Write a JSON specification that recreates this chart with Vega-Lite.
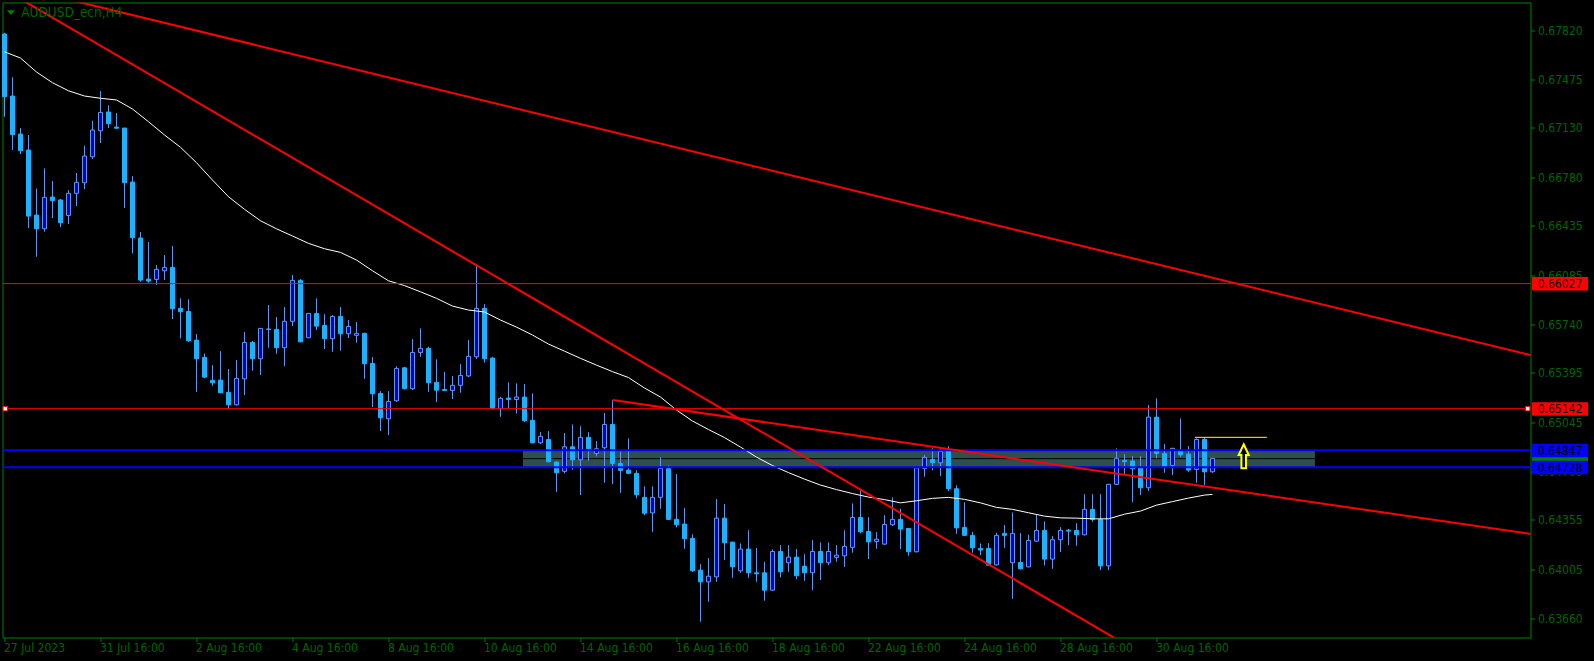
{
"$schema": "https://vega.github.io/schema/vega-lite/v6.json",
"width": 1528, "height": 635,
"autosize": {"type": "none"},
"padding": {"left": 2.5, "top": 2.5, "right": 63.5, "bottom": 23.5},
"background": "#000000",
"config": {
 "view": {"stroke": "#008000", "strokeWidth": 1},
 "font": "DejaVu Sans Condensed, Liberation Sans Narrow, DejaVu Sans",
 "scale": {"continuousPadding": 0},
 "axis": {"domain": false, "grid": false, "ticks": true, "tickColor": "#008000", "tickSize": 4, "labelColor": "#006400", "labelFont": "DejaVu Sans Condensed, Liberation Sans Narrow, DejaVu Sans", "labelFontSize": 12, "labelOverlap": false, "labelBound": false, "labelFlush": false},
 "axisX": {"labelAlign": "left", "labelBaseline": "top", "labelPadding": 1, "labelOffset": -1},
 "axisY": {"labelAlign": "left", "labelBaseline": "middle", "labelPadding": 3}
},
"datasets": {
"candles": [
{"i":0,"o":0.67794,"h":0.67803,"l":0.67208,"c":0.67350},
{"i":1,"o":0.67355,"h":0.67487,"l":0.66973,"c":0.67081},
{"i":2,"o":0.67086,"h":0.67128,"l":0.66944,"c":0.66968},
{"i":3,"o":0.66973,"h":0.67079,"l":0.66420,"c":0.66505},
{"i":4,"o":0.66512,"h":0.66701,"l":0.66217,"c":0.66415},
{"i":5,"o":0.66415,"h":0.66843,"l":0.66394,"c":0.66638},
{"i":6,"o":0.66640,"h":0.66753,"l":0.66491,"c":0.66614},
{"i":7,"o":0.66619,"h":0.66626,"l":0.66427,"c":0.66458},
{"i":8,"o":0.66510,"h":0.66689,"l":0.66449,"c":0.66666},
{"i":9,"o":0.66666,"h":0.66810,"l":0.66576,"c":0.66744},
{"i":10,"o":0.66741,"h":0.67003,"l":0.66696,"c":0.66930},
{"i":11,"o":0.66925,"h":0.67180,"l":0.66909,"c":0.67114},
{"i":12,"o":0.67109,"h":0.67390,"l":0.67022,"c":0.67239},
{"i":13,"o":0.67242,"h":0.67289,"l":0.67128,"c":0.67159},
{"i":14,"o":0.67135,"h":0.67234,"l":0.67125,"c":0.67127},
{"i":15,"o":0.67128,"h":0.67131,"l":0.66562,"c":0.66741},
{"i":16,"o":0.66746,"h":0.66788,"l":0.66241,"c":0.66352},
{"i":17,"o":0.66350,"h":0.66392,"l":0.66040,"c":0.66052},
{"i":18,"o":0.66059,"h":0.66321,"l":0.66033,"c":0.66045},
{"i":19,"o":0.66057,"h":0.66158,"l":0.66017,"c":0.66128},
{"i":20,"o":0.66118,"h":0.66229,"l":0.66052,"c":0.66142},
{"i":21,"o":0.66142,"h":0.66293,"l":0.65776,"c":0.65849},
{"i":22,"o":0.65852,"h":0.65923,"l":0.65639,"c":0.65828},
{"i":23,"o":0.65830,"h":0.65916,"l":0.65615,"c":0.65622},
{"i":24,"o":0.65627,"h":0.65670,"l":0.65261,"c":0.65495},
{"i":25,"o":0.65505,"h":0.65533,"l":0.65358,"c":0.65365},
{"i":26,"o":0.65342,"h":0.65450,"l":0.65304,"c":0.65325},
{"i":27,"o":0.65344,"h":0.65549,"l":0.65252,"c":0.65254},
{"i":28,"o":0.65257,"h":0.65422,"l":0.65139,"c":0.65169},
{"i":29,"o":0.65169,"h":0.65486,"l":0.65165,"c":0.65356},
{"i":30,"o":0.65353,"h":0.65684,"l":0.65238,"c":0.65611},
{"i":31,"o":0.65611,"h":0.65622,"l":0.65410,"c":0.65495},
{"i":32,"o":0.65495,"h":0.65712,"l":0.65380,"c":0.65710},
{"i":33,"o":0.65706,"h":0.65875,"l":0.65573,"c":0.65702},
{"i":34,"o":0.65703,"h":0.65790,"l":0.65530,"c":0.65573},
{"i":35,"o":0.65573,"h":0.65861,"l":0.65443,"c":0.65760},
{"i":36,"o":0.65760,"h":0.66088,"l":0.65726,"c":0.66050},
{"i":37,"o":0.66050,"h":0.66059,"l":0.65612,"c":0.65615},
{"i":38,"o":0.65644,"h":0.65819,"l":0.65641,"c":0.65816},
{"i":39,"o":0.65816,"h":0.65923,"l":0.65698,"c":0.65726},
{"i":40,"o":0.65731,"h":0.65811,"l":0.65564,"c":0.65637},
{"i":41,"o":0.65637,"h":0.65804,"l":0.65545,"c":0.65795},
{"i":42,"o":0.65795,"h":0.65861,"l":0.65552,"c":0.65672},
{"i":43,"o":0.65672,"h":0.65769,"l":0.65642,"c":0.65724},
{"i":44,"o":0.65661,"h":0.65755,"l":0.65608,"c":0.65675},
{"i":45,"o":0.65675,"h":0.65680,"l":0.65353,"c":0.65460},
{"i":46,"o":0.65462,"h":0.65507,"l":0.65153,"c":0.65247},
{"i":47,"o":0.65250,"h":0.65266,"l":0.64983,"c":0.65077},
{"i":48,"o":0.65070,"h":0.65266,"l":0.64955,"c":0.65193},
{"i":49,"o":0.65198,"h":0.65443,"l":0.65190,"c":0.65427},
{"i":50,"o":0.65431,"h":0.65438,"l":0.65278,"c":0.65283},
{"i":51,"o":0.65283,"h":0.65634,"l":0.65273,"c":0.65540},
{"i":52,"o":0.65540,"h":0.65710,"l":0.65509,"c":0.65569},
{"i":53,"o":0.65569,"h":0.65580,"l":0.65261,"c":0.65325},
{"i":54,"o":0.65328,"h":0.65491,"l":0.65188,"c":0.65273},
{"i":55,"o":0.65278,"h":0.65403,"l":0.65266,"c":0.65271},
{"i":56,"o":0.65271,"h":0.65372,"l":0.65210,"c":0.65307},
{"i":57,"o":0.65307,"h":0.65457,"l":0.65254,"c":0.65377},
{"i":58,"o":0.65373,"h":0.65629,"l":0.65365,"c":0.65512},
{"i":59,"o":0.65509,"h":0.66158,"l":0.65493,"c":0.65852},
{"i":60,"o":0.65852,"h":0.65882,"l":0.65467,"c":0.65495},
{"i":61,"o":0.65500,"h":0.65509,"l":0.65137,"c":0.65141},
{"i":62,"o":0.65141,"h":0.65226,"l":0.65084,"c":0.65215},
{"i":63,"o":0.65217,"h":0.65328,"l":0.65144,"c":0.65207},
{"i":64,"o":0.65207,"h":0.65321,"l":0.65108,"c":0.65224},
{"i":65,"o":0.65224,"h":0.65316,"l":0.65049,"c":0.65056},
{"i":66,"o":0.65059,"h":0.65250,"l":0.64896,"c":0.64900},
{"i":67,"o":0.64900,"h":0.64976,"l":0.64891,"c":0.64946},
{"i":68,"o":0.64924,"h":0.64983,"l":0.64761,"c":0.64766},
{"i":69,"o":0.64764,"h":0.64766,"l":0.64553,"c":0.64688},
{"i":70,"o":0.64698,"h":0.64969,"l":0.64684,"c":0.64872},
{"i":71,"o":0.64872,"h":0.65030,"l":0.64709,"c":0.64780},
{"i":72,"o":0.64780,"h":0.65018,"l":0.64530,"c":0.64939},
{"i":73,"o":0.64939,"h":0.64976,"l":0.64773,"c":0.64858},
{"i":74,"o":0.64825,"h":0.64912,"l":0.64804,"c":0.64858},
{"i":75,"o":0.64865,"h":0.65111,"l":0.64617,"c":0.65030},
{"i":76,"o":0.65030,"h":0.65203,"l":0.64608,"c":0.64754},
{"i":77,"o":0.64754,"h":0.64839,"l":0.64546,"c":0.64705},
{"i":78,"o":0.64707,"h":0.64931,"l":0.64679,"c":0.64684},
{"i":79,"o":0.64684,"h":0.64707,"l":0.64507,"c":0.64532},
{"i":80,"o":0.64514,"h":0.64592,"l":0.64388,"c":0.64402},
{"i":81,"o":0.64404,"h":0.64592,"l":0.64270,"c":0.64514},
{"i":82,"o":0.64514,"h":0.64797,"l":0.64433,"c":0.64719},
{"i":83,"o":0.64719,"h":0.64740,"l":0.64355,"c":0.64358},
{"i":84,"o":0.64358,"h":0.64679,"l":0.64301,"c":0.64320},
{"i":85,"o":0.64325,"h":0.64440,"l":0.64150,"c":0.64221},
{"i":86,"o":0.64224,"h":0.64252,"l":0.63987,"c":0.63994},
{"i":87,"o":0.63999,"h":0.64041,"l":0.63633,"c":0.63916},
{"i":88,"o":0.63916,"h":0.64084,"l":0.63775,"c":0.63956},
{"i":89,"o":0.63951,"h":0.64502,"l":0.63916,"c":0.64367},
{"i":90,"o":0.64367,"h":0.64466,"l":0.64070,"c":0.64192},
{"i":91,"o":0.64197,"h":0.64200,"l":0.63944,"c":0.64022},
{"i":92,"o":0.63994,"h":0.64188,"l":0.63980,"c":0.64148},
{"i":93,"o":0.64148,"h":0.64282,"l":0.63944,"c":0.63980},
{"i":94,"o":0.63980,"h":0.64155,"l":0.63916,"c":0.63973},
{"i":95,"o":0.63980,"h":0.64058,"l":0.63782,"c":0.63857},
{"i":96,"o":0.63857,"h":0.64145,"l":0.63852,"c":0.64131},
{"i":97,"o":0.64131,"h":0.64176,"l":0.63947,"c":0.63987},
{"i":98,"o":0.64051,"h":0.64176,"l":0.63987,"c":0.64091},
{"i":99,"o":0.64091,"h":0.64148,"l":0.63935,"c":0.63959},
{"i":100,"o":0.64027,"h":0.64112,"l":0.63923,"c":0.63980},
{"i":101,"o":0.63980,"h":0.64211,"l":0.63857,"c":0.64131},
{"i":102,"o":0.64131,"h":0.64195,"l":0.63929,"c":0.64051},
{"i":103,"o":0.64051,"h":0.64195,"l":0.64034,"c":0.64131},
{"i":104,"o":0.64089,"h":0.64176,"l":0.64058,"c":0.64105},
{"i":105,"o":0.64100,"h":0.64282,"l":0.64022,"c":0.64167},
{"i":106,"o":0.64160,"h":0.64471,"l":0.64122,"c":0.64372},
{"i":107,"o":0.64372,"h":0.64565,"l":0.64259,"c":0.64270},
{"i":108,"o":0.64273,"h":0.64374,"l":0.64077,"c":0.64199},
{"i":109,"o":0.64202,"h":0.64268,"l":0.64150,"c":0.64218},
{"i":110,"o":0.64183,"h":0.64388,"l":0.64176,"c":0.64322},
{"i":111,"o":0.64320,"h":0.64514,"l":0.64311,"c":0.64358},
{"i":112,"o":0.64358,"h":0.64433,"l":0.64148,"c":0.64289},
{"i":113,"o":0.64294,"h":0.64296,"l":0.64100,"c":0.64129},
{"i":114,"o":0.64129,"h":0.64726,"l":0.64124,"c":0.64723},
{"i":115,"o":0.64719,"h":0.64813,"l":0.64660,"c":0.64797},
{"i":116,"o":0.64783,"h":0.64861,"l":0.64705,"c":0.64759},
{"i":117,"o":0.64759,"h":0.64861,"l":0.64664,"c":0.64839},
{"i":118,"o":0.64844,"h":0.64877,"l":0.64558,"c":0.64575},
{"i":119,"o":0.64575,"h":0.64599,"l":0.64256,"c":0.64298},
{"i":120,"o":0.64301,"h":0.64480,"l":0.64240,"c":0.64245},
{"i":121,"o":0.64245,"h":0.64270,"l":0.64122,"c":0.64157},
{"i":122,"o":0.64153,"h":0.64188,"l":0.64105,"c":0.64141},
{"i":123,"o":0.64153,"h":0.64190,"l":0.64029,"c":0.64034},
{"i":124,"o":0.64036,"h":0.64263,"l":0.64032,"c":0.64245},
{"i":125,"o":0.64259,"h":0.64318,"l":0.64157,"c":0.64245},
{"i":126,"o":0.64051,"h":0.64407,"l":0.63796,"c":0.64259},
{"i":127,"o":0.64053,"h":0.64261,"l":0.64004,"c":0.64008},
{"i":128,"o":0.64022,"h":0.64249,"l":0.64020,"c":0.64209},
{"i":129,"o":0.64204,"h":0.64390,"l":0.64199,"c":0.64280},
{"i":130,"o":0.64280,"h":0.64344,"l":0.64032,"c":0.64077},
{"i":131,"o":0.64077,"h":0.64240,"l":0.64008,"c":0.64214},
{"i":132,"o":0.64214,"h":0.64303,"l":0.64127,"c":0.64280},
{"i":133,"o":0.64282,"h":0.64291,"l":0.64176,"c":0.64275},
{"i":134,"o":0.64280,"h":0.64331,"l":0.64171,"c":0.64249},
{"i":135,"o":0.64249,"h":0.64537,"l":0.64245,"c":0.64429},
{"i":136,"o":0.64429,"h":0.64537,"l":0.64341,"c":0.64358},
{"i":137,"o":0.64358,"h":0.64537,"l":0.63999,"c":0.64029},
{"i":138,"o":0.64029,"h":0.64610,"l":0.63999,"c":0.64606},
{"i":139,"o":0.64606,"h":0.64861,"l":0.64601,"c":0.64790},
{"i":140,"o":0.64776,"h":0.64820,"l":0.64679,"c":0.64766},
{"i":141,"o":0.64771,"h":0.64806,"l":0.64480,"c":0.64716},
{"i":142,"o":0.64723,"h":0.64806,"l":0.64530,"c":0.64582},
{"i":143,"o":0.64582,"h":0.65167,"l":0.64560,"c":0.65082},
{"i":144,"o":0.65082,"h":0.65215,"l":0.64790,"c":0.64825},
{"i":145,"o":0.64825,"h":0.64891,"l":0.64688,"c":0.64735},
{"i":146,"o":0.64740,"h":0.64865,"l":0.64672,"c":0.64861},
{"i":147,"o":0.64844,"h":0.65073,"l":0.64801,"c":0.64815},
{"i":148,"o":0.64820,"h":0.64877,"l":0.64695,"c":0.64707},
{"i":149,"o":0.64712,"h":0.64931,"l":0.64617,"c":0.64924},
{"i":150,"o":0.64924,"h":0.64938,"l":0.64601,"c":0.64695},
{"i":151,"o":0.64695,"h":0.64792,"l":0.64688,"c":0.64790}
],
"ma": [
{"i":0,"p":0.67668},{"i":2,"p":0.67624},{"i":4,"p":0.67525},{"i":6,"p":0.67449},{"i":8,"p":0.67392},{"i":10,"p":0.67355},{"i":12,"p":0.67339},{"i":14,"p":0.67327},{"i":16,"p":0.67263},{"i":18,"p":0.67173},{"i":20,"p":0.67079},{"i":22,"p":0.66992},{"i":24,"p":0.66883},{"i":26,"p":0.66760},{"i":28,"p":0.66642},{"i":30,"p":0.66553},{"i":32,"p":0.66472},{"i":34,"p":0.66415},{"i":36,"p":0.66364},{"i":38,"p":0.66312},{"i":40,"p":0.66274},{"i":42,"p":0.66248},{"i":44,"p":0.66194},{"i":46,"p":0.66118},{"i":48,"p":0.66047},{"i":50,"p":0.66013},{"i":52,"p":0.65969},{"i":54,"p":0.65923},{"i":56,"p":0.65868},{"i":58,"p":0.65840},{"i":60,"p":0.65826},{"i":62,"p":0.65769},{"i":64,"p":0.65719},{"i":66,"p":0.65663},{"i":68,"p":0.65599},{"i":70,"p":0.65549},{"i":72,"p":0.65498},{"i":74,"p":0.65450},{"i":76,"p":0.65404},{"i":78,"p":0.65362},{"i":80,"p":0.65288},{"i":82,"p":0.65224},{"i":84,"p":0.65132},{"i":86,"p":0.65054},{"i":88,"p":0.64994},{"i":90,"p":0.64937},{"i":92,"p":0.64870},{"i":94,"p":0.64799},{"i":96,"p":0.64739},{"i":98,"p":0.64689},{"i":100,"p":0.64643},{"i":102,"p":0.64601},{"i":104,"p":0.64569},{"i":106,"p":0.64541},{"i":108,"p":0.64516},{"i":110,"p":0.64498},{"i":112,"p":0.64475},{"i":114,"p":0.64490},{"i":116,"p":0.64507},{"i":118,"p":0.64514},{"i":120,"p":0.64500},{"i":122,"p":0.64475},{"i":124,"p":0.64443},{"i":126,"p":0.64429},{"i":128,"p":0.64405},{"i":130,"p":0.64381},{"i":132,"p":0.64369},{"i":134,"p":0.64367},{"i":136,"p":0.64362},{"i":138,"p":0.64362},{"i":140,"p":0.64395},{"i":142,"p":0.64417},{"i":144,"p":0.64459},{"i":146,"p":0.64484},{"i":148,"p":0.64509},{"i":150,"p":0.64530},{"i":151,"p":0.64535}
],
"trend": [
{"id":"t1","i":0,"p":0.68148},{"id":"t1","i":191,"p":0.65518},
{"id":"t2","i":0,"p":0.68108},{"id":"t2","i":150,"p":0.63146},
{"id":"t3","i":76,"p":0.65203},{"id":"t3","i":191,"p":0.64253}
],
"levels": [
{"p":0.66027,"kind":"res"},
{"p":0.65142,"kind":"res"},
{"p":0.64847,"kind":"zone"},
{"p":0.64728,"kind":"zone"}
],
"boxes": [
{"p":0.64790,"kind":"bid","label":""},
{"p":0.66027,"kind":"res","label":"0.66027"},
{"p":0.65142,"kind":"res","label":"0.65142"},
{"p":0.64847,"kind":"zone","label":"0.64847"},
{"p":0.64728,"kind":"zone","label":"0.64728"}
],
"zone": [{"i0":64.8,"i1":163.8,"lo":0.64728,"hi":0.64847,"mid":0.64788}],
"signal": [{"i0":148.8,"i1":157.8,"p":0.64939,"ia":154.9,"pa":0.64805}],
"handles": [{"i":0.1,"p":0.65142},{"i":190.4,"p":0.65142}],
"caption": [{"i":2.1,"it":0.8,"p":0.67946,"label":"AUDUSD_ecn,H4"}]
},
"layer": [
{"data":{"name":"zone"},"mark":{"type":"rect","fill":"#2f4f4f"},
 "encoding":{
 "x":{"field":"i0","type":"quantitative","scale":{"domain":[-0.25,190.75],"nice":false,"zero":false,"padding":0},"axis":{"title":null,"values":[0,12,24,36,48,60,72,84,96,108,120,132,144],"labelExpr":"['27 Jul 2023','31 Jul 16:00','2 Aug 16:00','4 Aug 16:00','8 Aug 16:00','10 Aug 16:00','14 Aug 16:00','16 Aug 16:00','18 Aug 16:00','22 Aug 16:00','24 Aug 16:00','28 Aug 16:00','30 Aug 16:00'][round(datum.value/12)]"}},
 "x2":{"field":"i1"},
 "y":{"field":"lo","type":"quantitative","scale":{"domain":[0.63522,0.68017],"nice":false,"zero":false},"axis":{"title":null,"orient":"right","values":[0.6366,0.64005,0.64355,0.647,0.65045,0.65395,0.6574,0.66085,0.66435,0.6678,0.6713,0.67475,0.6782],"format":".5f"}},
 "y2":{"field":"hi"}}},
{"data":{"name":"zone"},"mark":{"type":"rule","color":"#000000","strokeWidth":1},
 "encoding":{
 "x":{"field":"i0","type":"quantitative","scale":{"domain":[-0.25,190.75],"nice":false,"zero":false,"padding":0},"axis":{"title":null,"values":[0,12,24,36,48,60,72,84,96,108,120,132,144],"labelExpr":"['27 Jul 2023','31 Jul 16:00','2 Aug 16:00','4 Aug 16:00','8 Aug 16:00','10 Aug 16:00','14 Aug 16:00','16 Aug 16:00','18 Aug 16:00','22 Aug 16:00','24 Aug 16:00','28 Aug 16:00','30 Aug 16:00'][round(datum.value/12)]"}},
 "x2":{"field":"i1"},
 "y":{"field":"mid","type":"quantitative","scale":{"domain":[0.63522,0.68017],"nice":false,"zero":false},"axis":{"title":null,"orient":"right","values":[0.6366,0.64005,0.64355,0.647,0.65045,0.65395,0.6574,0.66085,0.66435,0.6678,0.6713,0.67475,0.6782],"format":".5f"}}}},
{"data":{"name":"candles"},"mark":{"type":"rule","color":"#6495ed","strokeWidth":1},
 "encoding":{
 "x":{"field":"i","type":"quantitative","scale":{"domain":[-0.25,190.75],"nice":false,"zero":false,"padding":0},"axis":{"title":null,"values":[0,12,24,36,48,60,72,84,96,108,120,132,144],"labelExpr":"['27 Jul 2023','31 Jul 16:00','2 Aug 16:00','4 Aug 16:00','8 Aug 16:00','10 Aug 16:00','14 Aug 16:00','16 Aug 16:00','18 Aug 16:00','22 Aug 16:00','24 Aug 16:00','28 Aug 16:00','30 Aug 16:00'][round(datum.value/12)]"}},
 "y":{"field":"l","type":"quantitative","scale":{"domain":[0.63522,0.68017],"nice":false,"zero":false},"axis":{"title":null,"orient":"right","values":[0.6366,0.64005,0.64355,0.647,0.65045,0.65395,0.6574,0.66085,0.66435,0.6678,0.6713,0.67475,0.6782],"format":".5f"}},
 "y2":{"field":"h"}}},
{"data":{"name":"candles"},"mark":{"type":"bar","width":4,"strokeWidth":1},
 "encoding":{
 "x":{"field":"i","type":"quantitative","scale":{"domain":[-0.25,190.75],"nice":false,"zero":false,"padding":0},"axis":{"title":null,"values":[0,12,24,36,48,60,72,84,96,108,120,132,144],"labelExpr":"['27 Jul 2023','31 Jul 16:00','2 Aug 16:00','4 Aug 16:00','8 Aug 16:00','10 Aug 16:00','14 Aug 16:00','16 Aug 16:00','18 Aug 16:00','22 Aug 16:00','24 Aug 16:00','28 Aug 16:00','30 Aug 16:00'][round(datum.value/12)]"}},
 "y":{"field":"o","type":"quantitative","scale":{"domain":[0.63522,0.68017],"nice":false,"zero":false},"axis":{"title":null,"orient":"right","values":[0.6366,0.64005,0.64355,0.647,0.65045,0.65395,0.6574,0.66085,0.66435,0.6678,0.6713,0.67475,0.6782],"format":".5f"}},
 "y2":{"field":"c"},
 "fill":{"condition":{"test":"datum.c > datum.o","value":"#0000cd"},"value":"#1fb1ff"},
 "stroke":{"condition":{"test":"datum.c > datum.o","value":"#6495ed"},"value":"#1fb1ff"}}},
{"data":{"name":"ma"},"mark":{"type":"line","color":"#ffffff","strokeWidth":1},
 "encoding":{
 "x":{"field":"i","type":"quantitative","scale":{"domain":[-0.25,190.75],"nice":false,"zero":false,"padding":0},"axis":{"title":null,"values":[0,12,24,36,48,60,72,84,96,108,120,132,144],"labelExpr":"['27 Jul 2023','31 Jul 16:00','2 Aug 16:00','4 Aug 16:00','8 Aug 16:00','10 Aug 16:00','14 Aug 16:00','16 Aug 16:00','18 Aug 16:00','22 Aug 16:00','24 Aug 16:00','28 Aug 16:00','30 Aug 16:00'][round(datum.value/12)]"}},
 "y":{"field":"p","type":"quantitative","scale":{"domain":[0.63522,0.68017],"nice":false,"zero":false},"axis":{"title":null,"orient":"right","values":[0.6366,0.64005,0.64355,0.647,0.65045,0.65395,0.6574,0.66085,0.66435,0.6678,0.6713,0.67475,0.6782],"format":".5f"}}}},
{"data":{"name":"levels"},"mark":{"type":"rule"},
 "encoding":{
 "y":{"field":"p","type":"quantitative","scale":{"domain":[0.63522,0.68017],"nice":false,"zero":false},"axis":{"title":null,"orient":"right","values":[0.6366,0.64005,0.64355,0.647,0.65045,0.65395,0.6574,0.66085,0.66435,0.6678,0.6713,0.67475,0.6782],"format":".5f"}},
 "color":{"field":"kind","type":"nominal","scale":{"domain":["res","zone","bid"],"range":["#ff0000","#0000ff","#008000"]},"legend":null},
 "strokeWidth":{"condition":{"test":"datum.kind == 'zone'","value":2},"value":1}}},
{"data":{"name":"trend"},"mark":{"type":"line","clip":true,"color":"#ff0000","strokeWidth":2},
 "encoding":{
 "x":{"field":"i","type":"quantitative","scale":{"domain":[-0.25,190.75],"nice":false,"zero":false,"padding":0},"axis":{"title":null,"values":[0,12,24,36,48,60,72,84,96,108,120,132,144],"labelExpr":"['27 Jul 2023','31 Jul 16:00','2 Aug 16:00','4 Aug 16:00','8 Aug 16:00','10 Aug 16:00','14 Aug 16:00','16 Aug 16:00','18 Aug 16:00','22 Aug 16:00','24 Aug 16:00','28 Aug 16:00','30 Aug 16:00'][round(datum.value/12)]"}},
 "y":{"field":"p","type":"quantitative","scale":{"domain":[0.63522,0.68017],"nice":false,"zero":false},"axis":{"title":null,"orient":"right","values":[0.6366,0.64005,0.64355,0.647,0.65045,0.65395,0.6574,0.66085,0.66435,0.6678,0.6713,0.67475,0.6782],"format":".5f"}},
 "detail":{"field":"id"}}},
{"data":{"name":"signal"},"mark":{"type":"rule","color":"#ffff00","strokeWidth":1},
 "encoding":{
 "x":{"field":"i0","type":"quantitative","scale":{"domain":[-0.25,190.75],"nice":false,"zero":false,"padding":0},"axis":{"title":null,"values":[0,12,24,36,48,60,72,84,96,108,120,132,144],"labelExpr":"['27 Jul 2023','31 Jul 16:00','2 Aug 16:00','4 Aug 16:00','8 Aug 16:00','10 Aug 16:00','14 Aug 16:00','16 Aug 16:00','18 Aug 16:00','22 Aug 16:00','24 Aug 16:00','28 Aug 16:00','30 Aug 16:00'][round(datum.value/12)]"}},
 "x2":{"field":"i1"},
 "y":{"field":"p","type":"quantitative","scale":{"domain":[0.63522,0.68017],"nice":false,"zero":false},"axis":{"title":null,"orient":"right","values":[0.6366,0.64005,0.64355,0.647,0.65045,0.65395,0.6574,0.66085,0.66435,0.6678,0.6713,0.67475,0.6782],"format":".5f"}}}},
{"data":{"name":"signal"},"mark":{"type":"point","shape":"M0,-1L0.42,-0.1L0.19,-0.1L0.19,1L-0.19,1L-0.19,-0.1L-0.42,-0.1Z","size":576,"filled":false,"fill":"#000000","stroke":"#ffff00","strokeWidth":2,"opacity":1},
 "encoding":{
 "x":{"field":"ia","type":"quantitative","scale":{"domain":[-0.25,190.75],"nice":false,"zero":false,"padding":0},"axis":{"title":null,"values":[0,12,24,36,48,60,72,84,96,108,120,132,144],"labelExpr":"['27 Jul 2023','31 Jul 16:00','2 Aug 16:00','4 Aug 16:00','8 Aug 16:00','10 Aug 16:00','14 Aug 16:00','16 Aug 16:00','18 Aug 16:00','22 Aug 16:00','24 Aug 16:00','28 Aug 16:00','30 Aug 16:00'][round(datum.value/12)]"}},
 "y":{"field":"pa","type":"quantitative","scale":{"domain":[0.63522,0.68017],"nice":false,"zero":false},"axis":{"title":null,"orient":"right","values":[0.6366,0.64005,0.64355,0.647,0.65045,0.65395,0.6574,0.66085,0.66435,0.6678,0.6713,0.67475,0.6782],"format":".5f"}}}},
{"data":{"name":"handles"},"mark":{"type":"point","shape":"square","size":20,"fill":"#ffffff","stroke":"#ff0000","strokeWidth":1,"opacity":1},
 "encoding":{
 "x":{"field":"i","type":"quantitative","scale":{"domain":[-0.25,190.75],"nice":false,"zero":false,"padding":0},"axis":{"title":null,"values":[0,12,24,36,48,60,72,84,96,108,120,132,144],"labelExpr":"['27 Jul 2023','31 Jul 16:00','2 Aug 16:00','4 Aug 16:00','8 Aug 16:00','10 Aug 16:00','14 Aug 16:00','16 Aug 16:00','18 Aug 16:00','22 Aug 16:00','24 Aug 16:00','28 Aug 16:00','30 Aug 16:00'][round(datum.value/12)]"}},
 "y":{"field":"p","type":"quantitative","scale":{"domain":[0.63522,0.68017],"nice":false,"zero":false},"axis":{"title":null,"orient":"right","values":[0.6366,0.64005,0.64355,0.647,0.65045,0.65395,0.6574,0.66085,0.66435,0.6678,0.6713,0.67475,0.6782],"format":".5f"}}}},
{"data":{"name":"boxes"},"mark":{"type":"rect","yOffset":-6.5,"y2Offset":7},
 "encoding":{
 "x":{"datum":190.94,"type":"quantitative","scale":{"domain":[-0.25,190.75],"nice":false,"zero":false,"padding":0},"axis":{"title":null,"values":[0,12,24,36,48,60,72,84,96,108,120,132,144],"labelExpr":"['27 Jul 2023','31 Jul 16:00','2 Aug 16:00','4 Aug 16:00','8 Aug 16:00','10 Aug 16:00','14 Aug 16:00','16 Aug 16:00','18 Aug 16:00','22 Aug 16:00','24 Aug 16:00','28 Aug 16:00','30 Aug 16:00'][round(datum.value/12)]"}},
 "x2":{"datum":197.94},
 "y":{"field":"p","type":"quantitative","scale":{"domain":[0.63522,0.68017],"nice":false,"zero":false},"axis":{"title":null,"orient":"right","values":[0.6366,0.64005,0.64355,0.647,0.65045,0.65395,0.6574,0.66085,0.66435,0.6678,0.6713,0.67475,0.6782],"format":".5f"}},
 "y2":{"field":"p"},
 "fill":{"field":"kind","type":"nominal","scale":{"domain":["res","zone","bid"],"range":["#ff0000","#0000ff","#008000"]},"legend":null}}},
{"data":{"name":"boxes"},"mark":{"type":"text","align":"left","baseline":"middle","fontSize":12,"color":"#000000","dy":0.5},
 "encoding":{
 "x":{"datum":191.65,"type":"quantitative","scale":{"domain":[-0.25,190.75],"nice":false,"zero":false,"padding":0},"axis":{"title":null,"values":[0,12,24,36,48,60,72,84,96,108,120,132,144],"labelExpr":"['27 Jul 2023','31 Jul 16:00','2 Aug 16:00','4 Aug 16:00','8 Aug 16:00','10 Aug 16:00','14 Aug 16:00','16 Aug 16:00','18 Aug 16:00','22 Aug 16:00','24 Aug 16:00','28 Aug 16:00','30 Aug 16:00'][round(datum.value/12)]"}},
 "y":{"field":"p","type":"quantitative","scale":{"domain":[0.63522,0.68017],"nice":false,"zero":false},"axis":{"title":null,"orient":"right","values":[0.6366,0.64005,0.64355,0.647,0.65045,0.65395,0.6574,0.66085,0.66435,0.6678,0.6713,0.67475,0.6782],"format":".5f"}},
 "text":{"field":"label"}}},
{"data":{"name":"caption"},"mark":{"type":"point","shape":"M-1,-0.6L1,-0.6L0,0.6Z","size":64,"filled":true,"color":"#008000","opacity":1},
 "encoding":{
 "x":{"field":"it","type":"quantitative","scale":{"domain":[-0.25,190.75],"nice":false,"zero":false,"padding":0},"axis":{"title":null,"values":[0,12,24,36,48,60,72,84,96,108,120,132,144],"labelExpr":"['27 Jul 2023','31 Jul 16:00','2 Aug 16:00','4 Aug 16:00','8 Aug 16:00','10 Aug 16:00','14 Aug 16:00','16 Aug 16:00','18 Aug 16:00','22 Aug 16:00','24 Aug 16:00','28 Aug 16:00','30 Aug 16:00'][round(datum.value/12)]"}},
 "y":{"field":"p","type":"quantitative","scale":{"domain":[0.63522,0.68017],"nice":false,"zero":false},"axis":{"title":null,"orient":"right","values":[0.6366,0.64005,0.64355,0.647,0.65045,0.65395,0.6574,0.66085,0.66435,0.6678,0.6713,0.67475,0.6782],"format":".5f"}}}},
{"data":{"name":"caption"},"mark":{"type":"text","align":"left","baseline":"middle","fontSize":13.5,"color":"#006400"},
 "encoding":{
 "x":{"field":"i","type":"quantitative","scale":{"domain":[-0.25,190.75],"nice":false,"zero":false,"padding":0},"axis":{"title":null,"values":[0,12,24,36,48,60,72,84,96,108,120,132,144],"labelExpr":"['27 Jul 2023','31 Jul 16:00','2 Aug 16:00','4 Aug 16:00','8 Aug 16:00','10 Aug 16:00','14 Aug 16:00','16 Aug 16:00','18 Aug 16:00','22 Aug 16:00','24 Aug 16:00','28 Aug 16:00','30 Aug 16:00'][round(datum.value/12)]"}},
 "y":{"field":"p","type":"quantitative","scale":{"domain":[0.63522,0.68017],"nice":false,"zero":false},"axis":{"title":null,"orient":"right","values":[0.6366,0.64005,0.64355,0.647,0.65045,0.65395,0.6574,0.66085,0.66435,0.6678,0.6713,0.67475,0.6782],"format":".5f"}},
 "text":{"field":"label"}}}
]
}
